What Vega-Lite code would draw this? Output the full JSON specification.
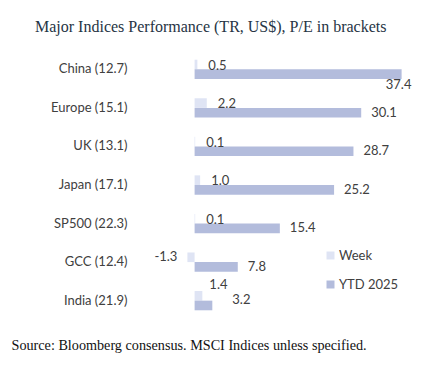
{
  "$schema": "https://vega.github.io/schema/vega-lite/v6.json",
  "autosize": {"type": "none"},
  "width": 238,
  "height": 266,
  "padding": {"left": 178, "top": 52, "right": 6, "bottom": 56},
  "background": "white",
  "title": {
    "text": "Major Indices Performance (TR, US$), P/E in brackets",
    "font": "Liberation Serif",
    "fontSize": 16,
    "fontWeight": "normal",
    "color": "#263444",
    "anchor": "start",
    "frame": "group",
    "dx": -143,
    "baseline": "middle",
    "offset": 9
  },
  "config": {
    "view": {"stroke": null},
    "font": "Lato"
  },
  "data": {
    "values": [
      {"Index": "China (12.7)", "Series": "Week", "Value": 0.5},
      {"Index": "China (12.7)", "Series": "YTD 2025", "Value": 37.4},
      {"Index": "Europe (15.1)", "Series": "Week", "Value": 2.2},
      {"Index": "Europe (15.1)", "Series": "YTD 2025", "Value": 30.1},
      {"Index": "UK (13.1)", "Series": "Week", "Value": 0.1},
      {"Index": "UK (13.1)", "Series": "YTD 2025", "Value": 28.7},
      {"Index": "Japan (17.1)", "Series": "Week", "Value": 1.0},
      {"Index": "Japan (17.1)", "Series": "YTD 2025", "Value": 25.2},
      {"Index": "SP500 (22.3)", "Series": "Week", "Value": 0.1},
      {"Index": "SP500 (22.3)", "Series": "YTD 2025", "Value": 15.4},
      {"Index": "GCC (12.4)", "Series": "Week", "Value": -1.3},
      {"Index": "GCC (12.4)", "Series": "YTD 2025", "Value": 7.8},
      {"Index": "India (21.9)", "Series": "Week", "Value": 1.4},
      {"Index": "India (21.9)", "Series": "YTD 2025", "Value": 3.2}
    ]
  },
  "encoding": {
    "y": {
      "field": "Index",
      "type": "nominal",
      "sort": null,
      "scale": {"paddingInner": 0.5, "paddingOuter": 0.2},
      "axis": {
        "title": null,
        "domain": false,
        "ticks": false,
        "labelPadding": 51,
        "labelFontSize": 13,
        "labelFont": "Lato",
        "labelColor": "#404040"
      }
    },
    "yOffset": {
      "field": "Series",
      "type": "nominal",
      "sort": ["Week", "YTD 2025"]
    },
    "x": {
      "field": "Value",
      "type": "quantitative",
      "scale": {"domain": [-3, 40], "nice": false},
      "axis": {
        "labels": false,
        "ticks": false,
        "domain": false,
        "grid": false,
        "title": "Source: Bloomberg consensus. MSCI Indices unless specified.",
        "titleFont": "Liberation Serif",
        "titleFontSize": 14.2,
        "titleFontWeight": "normal",
        "titleColor": "#111111",
        "titleAnchor": "start",
        "titleAlign": "left",
        "titleBaseline": "middle",
        "titleX": -167,
        "titleY": 27
      }
    }
  },
  "layer": [
    {
      "mark": {"type": "bar"},
      "encoding": {
        "color": {
          "field": "Series",
          "type": "nominal",
          "scale": {"domain": ["Week", "YTD 2025"], "range": ["#dfe4f4", "#b3bcdc"]},
          "legend": {
            "title": null,
            "orient": "none",
            "legendX": 146,
            "legendY": 197,
            "symbolType": "square",
            "symbolSize": 64,
            "symbolStrokeWidth": 0,
            "labelFont": "Lato",
            "labelFontSize": 13,
            "labelColor": "#404040",
            "labelOffset": 2,
            "rowPadding": 15
          }
        }
      }
    },
    {
      "data": {"values": [{"zero": 0}]},
      "mark": {"type": "rule", "color": "#c9cfe0", "strokeWidth": 1},
      "encoding": {"x": {"datum": 0}, "y": null, "yOffset": null}
    },
    {
      "transform": [{"filter": "datum.Series == 'Week' && datum.Value >= 0 && datum.Index != 'India (21.9)'"}],
      "mark": {"type": "text", "align": "left", "baseline": "middle", "dx": 11, "dy": 1, "fontSize": 13, "font": "Lato", "color": "#404040"},
      "encoding": {"text": {"field": "Value", "type": "quantitative", "format": ".1f"}}
    },
    {
      "transform": [
        {"filter": "datum.Series == 'Week' && datum.Value < 0"},
        {"calculate": "replace(format(datum.Value, '.1f'), '\u2212', '-')", "as": "Label"}
      ],
      "mark": {"type": "text", "align": "right", "baseline": "middle", "dx": -10, "fontSize": 13, "font": "Lato", "color": "#404040"},
      "encoding": {"text": {"field": "Label", "type": "nominal"}}
    },
    {
      "transform": [{"filter": "datum.Series == 'Week' && datum.Index == 'India (21.9)'"}],
      "mark": {"type": "text", "align": "left", "baseline": "middle", "dx": 7, "dy": -11, "fontSize": 13, "font": "Lato", "color": "#404040"},
      "encoding": {"text": {"field": "Value", "type": "quantitative", "format": ".1f"}}
    },
    {
      "transform": [{"filter": "datum.Series == 'YTD 2025' && datum.Index != 'China (12.7)' && datum.Index != 'India (21.9)'"}],
      "mark": {"type": "text", "align": "left", "baseline": "middle", "dx": 10, "fontSize": 13, "font": "Lato", "color": "#404040"},
      "encoding": {"text": {"field": "Value", "type": "quantitative", "format": ".1f"}}
    },
    {
      "transform": [{"filter": "datum.Series == 'YTD 2025' && datum.Index == 'China (12.7)'"}],
      "mark": {"type": "text", "align": "center", "baseline": "middle", "dx": -3, "dy": 11, "fontSize": 13, "font": "Lato", "color": "#404040"},
      "encoding": {"text": {"field": "Value", "type": "quantitative", "format": ".1f"}}
    },
    {
      "transform": [{"filter": "datum.Series == 'YTD 2025' && datum.Index == 'India (21.9)'"}],
      "mark": {"type": "text", "align": "left", "baseline": "middle", "dx": 20, "dy": -5, "fontSize": 13, "font": "Lato", "color": "#404040"},
      "encoding": {"text": {"field": "Value", "type": "quantitative", "format": ".1f"}}
    }
  ]
}
